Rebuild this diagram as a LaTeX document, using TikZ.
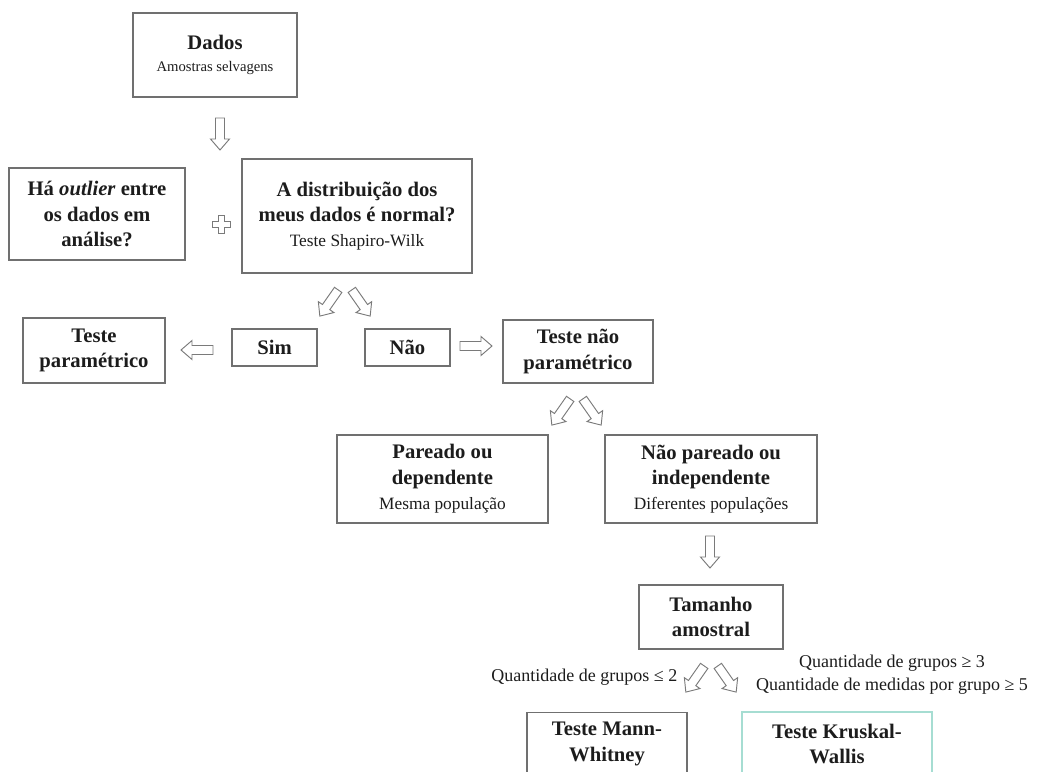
\documentclass[tikz,border=0pt]{standalone}
\usepackage{fontspec}
\setmainfont{Liberation Serif}
\usetikzlibrary{calc}
\definecolor{ink}{HTML}{1C1C1C}
\definecolor{boxline}{HTML}{707070}
\definecolor{arrowline}{HTML}{7A7A7A}
\definecolor{kwline}{HTML}{A6DDD2}
\newcommand{\subtxt}{\fontsize{13}{16}\selectfont\mdseries}

\begin{document}
\begin{tikzpicture}[x=0.75pt,y=-0.75pt,
  font=\fontsize{15.5}{19}\selectfont\bfseries, text=ink,
  box/.style={draw=boxline,line width=1.1pt,align=center,inner sep=2pt},
  cond/.style={font=\fontsize{13.5}{17}\selectfont,align=center},
  hollow/.pic={\draw[draw=arrowline,line width=.7pt,fill=white]
    (-16,-4.5) -- (5,-4.5) -- (5,-9.5) -- (16,0) -- (5,9.5) -- (5,4.5) -- (-16,4.5) -- cycle;},
  cross/.pic={\draw[draw=arrowline,line width=.7pt,fill=white]
    (-3,-9) -- (3,-9) -- (3,-3) -- (9,-3) -- (9,3) -- (3,3) -- (3,9) -- (-3,9) -- (-3,3)
    -- (-9,3) -- (-9,-3) -- (-3,-3) -- cycle;}
]
\clip (0,0) rectangle (1038,771);
% Data and the normality question.
\node[box,minimum width=123pt,minimum height=63pt] (dados) at (215,55)
  {Dados\\[-2pt]{\fontsize{11}{13}\selectfont\mdseries Amostras selvagens}};
\pic[rotate=-90] (down1) at (220,134) {hollow};
\node[box,minimum width=132pt,minimum height=69pt] (outlier) at (97,214)
  {Há \textit{outlier} entre\\os dados em\\análise?};
\pic (join) at (221,224) {cross};
\node[box,minimum width=172.5pt,minimum height=85.5pt] (dist) at (357,216)
  {A distribuição dos\\meus dados é normal?\\{\subtxt Teste Shapiro-Wilk}};
\pic[rotate=-125] (split1l) at (329,303) {hollow};
\pic[rotate=-55] (split1r) at (361,303) {hollow};
% Answers.
\node[box,minimum width=106.5pt,minimum height=48.75pt] (param) at (94,350.5)
  {Teste\\paramétrico};
\node[box,minimum width=63.75pt,minimum height=27.75pt] (sim) at (274.5,347.5) {Sim};
\node[box,minimum width=63.75pt,minimum height=27.75pt] (nao) at (407.5,347.5) {Não};
\node[box,minimum width=112.5pt,minimum height=47.25pt] (naoparam) at (578,351.5)
  {Teste não\\paramétrico};
\pic[rotate=180] (toparam) at (197,350) {hollow};
\pic (tonaoparam) at (476,346) {hollow};
\pic[rotate=-125] (split2l) at (561,412) {hollow};
\pic[rotate=-55] (split2r) at (592,412) {hollow};
% Sample design.
\node[box,minimum width=158.25pt,minimum height=66pt] (pareado) at (442.5,479)
  {Pareado ou\\dependente\\{\subtxt Mesma população}};
\node[box,minimum width=159pt,minimum height=66pt] (naopareado) at (711,479)
  {Não pareado ou\\independente\\{\subtxt Diferentes populações}};
\pic[rotate=-90] (down2) at (710,552) {hollow};
\node[box,minimum width=108pt,minimum height=48pt] (tamanho) at (711,617)
  {Tamanho\\amostral};
\pic[rotate=-125] (split3l) at (695,679) {hollow};
\pic[rotate=-55] (split3r) at (727,679) {hollow};
\node[cond,anchor=east] (menor) at (682,677) {Quantidade de grupos ≤ 2};
\node[cond] (maior) at (892,675)
  {Quantidade de grupos ≥ 3\\Quantidade de medidas por grupo ≥ 5};
% Final tests, cut by the lower edge.
\node[box,minimum width=120pt,minimum height=47.25pt] (mann) at (607,744)
  {Teste Mann-\\Whitney};
\node[box,draw=kwline,minimum width=142.5pt,minimum height=48pt] (kruskal) at (837,744)
  {Teste Kruskal-\\Wallis};
\end{tikzpicture}
\end{document}
